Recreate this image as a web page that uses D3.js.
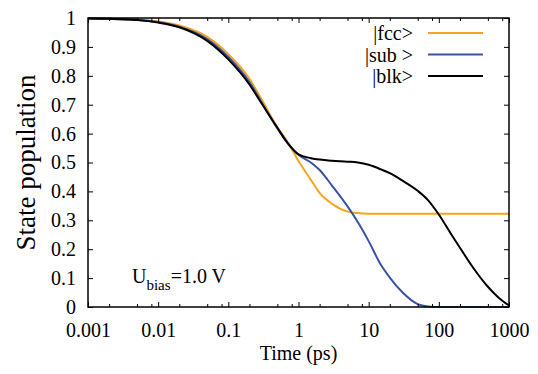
<!DOCTYPE html>
<html>
<head>
<meta charset="utf-8">
<script src="https://cdn.jsdelivr.net/npm/d3@7"></script>
<style>
  html, body { margin: 0; padding: 0; background: #fff; }
  svg, svg text { font-family: "Liberation Serif", "Times New Roman", "DejaVu Serif", serif; }
  .axis path { display: none; }
  .axis line { stroke: #000; stroke-width: 1; }
  .axis text { font-size: 20px; fill: #000; font-family: "Liberation Serif", "Times New Roman", serif; }
</style>
</head>
<body>
<div id="chart"></div>
<script>
// State populations vs time (log axis).
const times = [0.001, 0.002, 0.005, 0.01, 0.02, 0.05, 0.1, 0.2, 0.3, 0.5, 0.7, 1, 1.5, 2, 3, 5, 7,
  10, 15, 20, 30, 50, 70, 100, 150, 200, 300, 500, 700, 1000];
const fcc = [0.999, 0.998, 0.995, 0.988, 0.974, 0.935, 0.875, 0.790, 0.717, 0.622, 0.571, 0.505, 0.44,
  0.395, 0.357, 0.330, 0.325, 0.323, 0.323, 0.323, 0.323, 0.323, 0.323, 0.323, 0.323, 0.323, 0.323, 0.323, 0.323, 0.323];
const sub = [0.998, 0.997, 0.994, 0.986, 0.970, 0.927, 0.865, 0.778, 0.707, 0.618, 0.568, 0.527, 0.500,
  0.474, 0.420, 0.348, 0.294, 0.228, 0.145, 0.102, 0.052, 0.010, 0.002, 0, 0, 0, 0, 0, 0, 0];
const blk = [0.998, 0.997, 0.993, 0.984, 0.968, 0.921, 0.857, 0.770, 0.703, 0.620, 0.567, 0.528, 0.515,
  0.510, 0.506, 0.503, 0.500, 0.492, 0.476, 0.463, 0.438, 0.402, 0.370, 0.320, 0.252, 0.205, 0.140, 0.070, 0.034, 0.005];

const seriesNames = ["|fcc>", "|sub >", "|blk>"];
const seriesColors = ["#f8a41d", "#3853a4", "#000000"];
const seriesValues = [fcc, sub, blk];

const xMajor = [0.001, 0.01, 0.1, 1, 10, 100, 1000];
const xMajorLabels = ["0.001", "0.01", "0.1", "1", "10", "100", "1000"];
const xMinor = xMajor.slice(0, -1).flatMap((d) => [2 * d, 5 * d, 8 * d]);
const yTicks = [0, 0.1, 0.2, 0.3, 0.4, 0.5, 0.6, 0.7, 0.8, 0.9, 1];
const yTickLabels = ["0", "0.1", "0.2", "0.3", "0.4", "0.5", "0.6", "0.7", "0.8", "0.9", "1"];

const width = 538, height = 374;
const m = { top: 18, right: 29, bottom: 67, left: 88 };
const iw = width - m.left - m.right;
const ih = height - m.top - m.bottom;

const svg = d3.select("#chart").append("svg").attr("width", width).attr("height", height);
const g = svg.append("g").attr("transform", `translate(${m.left},${m.top})`);

const x = d3.scaleLog().domain([0.001, 1000]).range([0, iw]);
const y = d3.scaleLinear().domain([0, 1]).range([ih, 0]);

// curves
const line = d3.line().x((d) => x(d[0])).y((d) => y(d[1])).curve(d3.curveMonotoneX);
seriesValues.forEach((vals, i) => {
  g.append("path").datum(times.map((t, j) => [t, vals[j]]))
    .attr("fill", "none").attr("stroke", seriesColors[i]).attr("stroke-width", 2)
    .attr("d", line);
});

// axes: ticks point inward, mirrored on top and right
const serif = "Liberation Serif, Times New Roman, serif";
g.append("g").attr("class", "axis").attr("transform", `translate(0,${ih})`)
  .call(d3.axisBottom(x).tickValues(xMajor).tickFormat((d, i) => xMajorLabels[i])
    .tickSizeInner(-5).tickSizeOuter(0).tickPadding(16))
  .attr("font-family", serif).attr("font-size", 20);
g.append("g").attr("class", "axis").attr("transform", `translate(0,${ih})`)
  .call(d3.axisBottom(x).tickValues(xMinor).tickFormat("").tickSizeInner(-3).tickSizeOuter(0));
g.append("g").attr("class", "axis")
  .call(d3.axisTop(x).tickValues(xMajor).tickFormat("").tickSizeInner(-5).tickSizeOuter(0));
g.append("g").attr("class", "axis")
  .call(d3.axisTop(x).tickValues(xMinor).tickFormat("").tickSizeInner(-3).tickSizeOuter(0));
g.append("g").attr("class", "axis")
  .call(d3.axisLeft(y).tickValues(yTicks).tickFormat((d, i) => yTickLabels[i])
    .tickSizeInner(-5).tickSizeOuter(0).tickPadding(12))
  .attr("font-family", serif).attr("font-size", 20);
g.append("g").attr("class", "axis").attr("transform", `translate(${iw},0)`)
  .call(d3.axisRight(y).tickValues(yTicks).tickFormat("").tickSizeInner(-5).tickSizeOuter(0));

g.append("rect").attr("width", iw).attr("height", ih)
  .attr("fill", "none").attr("stroke", "#000").attr("stroke-width", 1.5);

// legend
const legend = g.append("g").attr("transform", "translate(325,15)");
seriesNames.forEach((name, i) => {
  const row = legend.append("g").attr("transform", `translate(0,${i * 21.5})`);
  row.append("text").attr("x", 0).attr("dy", "0.35em").attr("text-anchor", "end")
    .attr("font-size", 20).text(name);
  row.append("line").attr("x1", 15).attr("x2", 70)
    .attr("stroke", seriesColors[i]).attr("stroke-width", 2);
});

// annotation
const note = g.append("text").attr("x", 44).attr("y", 265).attr("font-size", 20);
note.append("tspan").text("U");
note.append("tspan").attr("font-size", 15).attr("dy", 7).text("bias");
note.append("tspan").attr("dy", -7).text("=1.0 V");

// axis titles
svg.append("text").attr("x", m.left + iw / 2).attr("y", 360).attr("text-anchor", "middle")
  .attr("font-size", 20).text("Time (ps)");
svg.append("text").attr("transform", `translate(35,${m.top + ih / 2}) rotate(-90)`)
  .attr("text-anchor", "middle").attr("font-size", 27).text("State population");
</script>
</body>
</html>
